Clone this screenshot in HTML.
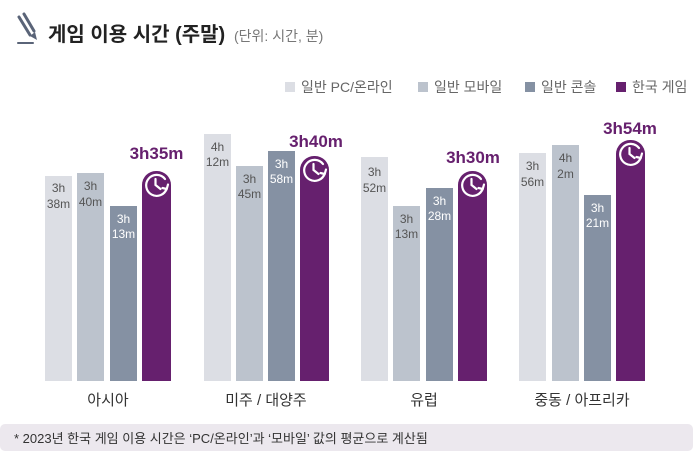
<!DOCTYPE html>
<html><head><meta charset="utf-8"><style>
body{margin:0;background:#fff;}
svg{display:block;font-family:"Liberation Sans","Noto Sans CJK KR",sans-serif;}
</style></head><body>
<svg width="700" height="456" viewBox="0 0 700 456">
<g stroke="#5a6478" stroke-width="3" stroke-linecap="round">
<line x1="19" y1="17" x2="30" y2="35"/>
<line x1="24" y1="14" x2="34" y2="31"/>
<line x1="18" y1="43" x2="33" y2="43" stroke-width="2"/>
</g>
<polygon points="30,36 35,32 37,40" fill="#5a6478"/>
<text x="48" y="41" font-size="20" font-weight="bold" fill="#222">게임 이용 시간 (주말)</text>
<text x="234" y="41" font-size="14" fill="#777">(단위: 시간, 분)</text>
<g font-size="14" fill="#666">
<rect x="285" y="82" width="10" height="10" fill="#dcdee4"/><text x="301" y="92">일반 PC/온라인</text>
<rect x="418" y="82" width="10" height="10" fill="#bcc3cd"/><text x="434" y="92">일반 모바일</text>
<rect x="525" y="82" width="10" height="10" fill="#8591a3"/><text x="541" y="92">일반 콘솔</text>
<rect x="616" y="82" width="10" height="10" fill="#66206e"/><text x="632" y="92">한국 게임</text>
</g>
<g>
<rect x="45" y="176" width="27" height="205" fill="#dcdee4"/>
<rect x="77" y="173" width="27" height="208" fill="#bcc3cd"/>
<rect x="110" y="206" width="27" height="175" fill="#8591a3"/>
<rect x="142" y="171" width="29" height="210" rx="14" fill="#66206e"/><rect x="142" y="190" width="29" height="191" fill="#66206e"/>

<rect x="204" y="134" width="27" height="247" fill="#dcdee4"/>
<rect x="236" y="166" width="27" height="215" fill="#bcc3cd"/>
<rect x="268" y="151" width="27" height="230" fill="#8591a3"/>
<rect x="300" y="156" width="29" height="225" rx="14" fill="#66206e"/><rect x="300" y="175" width="29" height="206" fill="#66206e"/>

<rect x="361" y="157" width="27" height="224" fill="#dcdee4"/>
<rect x="393" y="206" width="27" height="175" fill="#bcc3cd"/>
<rect x="426" y="188" width="27" height="193" fill="#8591a3"/>
<rect x="458" y="171" width="29" height="210" rx="14" fill="#66206e"/><rect x="458" y="190" width="29" height="191" fill="#66206e"/>

<rect x="519" y="153" width="27" height="228" fill="#dcdee4"/>
<rect x="552" y="145" width="27" height="236" fill="#bcc3cd"/>
<rect x="584" y="195" width="27" height="186" fill="#8591a3"/>
<rect x="616" y="140" width="29" height="241" rx="14" fill="#66206e"/><rect x="616" y="159" width="29" height="222" fill="#66206e"/>
</g>
<g font-size="12" fill="#555" text-anchor="middle">
<text x="58.5" y="192">3h</text><text x="58.5" y="208">38m</text>
<text x="90.5" y="190">3h</text><text x="90.5" y="206">40m</text>
<text x="123.5" y="223" fill="#fff">3h</text><text x="123.5" y="238" fill="#fff">13m</text>
<text x="217.5" y="151">4h</text><text x="217.5" y="166">12m</text>
<text x="249.5" y="183">3h</text><text x="249.5" y="198">45m</text>
<text x="281.5" y="168" fill="#fff">3h</text><text x="281.5" y="183" fill="#fff">58m</text>
<text x="374.5" y="176">3h</text><text x="374.5" y="192">52m</text>
<text x="406.5" y="223">3h</text><text x="406.5" y="238">13m</text>
<text x="439.5" y="205" fill="#fff">3h</text><text x="439.5" y="220" fill="#fff">28m</text>
<text x="532.5" y="170">3h</text><text x="532.5" y="186">56m</text>
<text x="565.5" y="162">4h</text><text x="565.5" y="178">2m</text>
<text x="597.5" y="212" fill="#fff">3h</text><text x="597.5" y="227" fill="#fff">21m</text>
</g>
<defs><g id="clk" fill="none" stroke="#fff" stroke-width="2.2" stroke-linecap="round">
<path d="M8.5 -6 A10.5 10.5 0 1 0 10.2 3.5"/><polyline points="-1,-6 -1,0 4,4"/><polyline points="6,3 10.2,4 11.5,-0.5"/></g></defs>
<use href="#clk" x="156.5" y="185"/>
<use href="#clk" x="314.5" y="170"/>
<use href="#clk" x="472.5" y="185"/>
<use href="#clk" x="630.5" y="154"/>
<g font-size="17" font-weight="bold" fill="#66206e" text-anchor="middle">
<text x="156.5" y="159">3h35m</text>
<text x="316" y="147">3h40m</text>
<text x="473" y="163">3h30m</text>
<text x="630" y="134">3h54m</text>
</g>
<g font-size="15" fill="#333" text-anchor="middle">
<text x="108" y="405">아시아</text>
<text x="266" y="405">미주 / 대양주</text>
<text x="424" y="405">유럽</text>
<text x="582" y="405">중동 / 아프리카</text>
</g>
<rect x="0" y="424" width="693" height="27" rx="5" fill="#ece8ee"/>
<text x="14" y="443" font-size="13" fill="#333">* 2023년 한국 게임 이용 시간은 ‘PC/온라인’과 ‘모바일’ 값의 평균으로 계산됨</text>
</svg>
</body></html>
